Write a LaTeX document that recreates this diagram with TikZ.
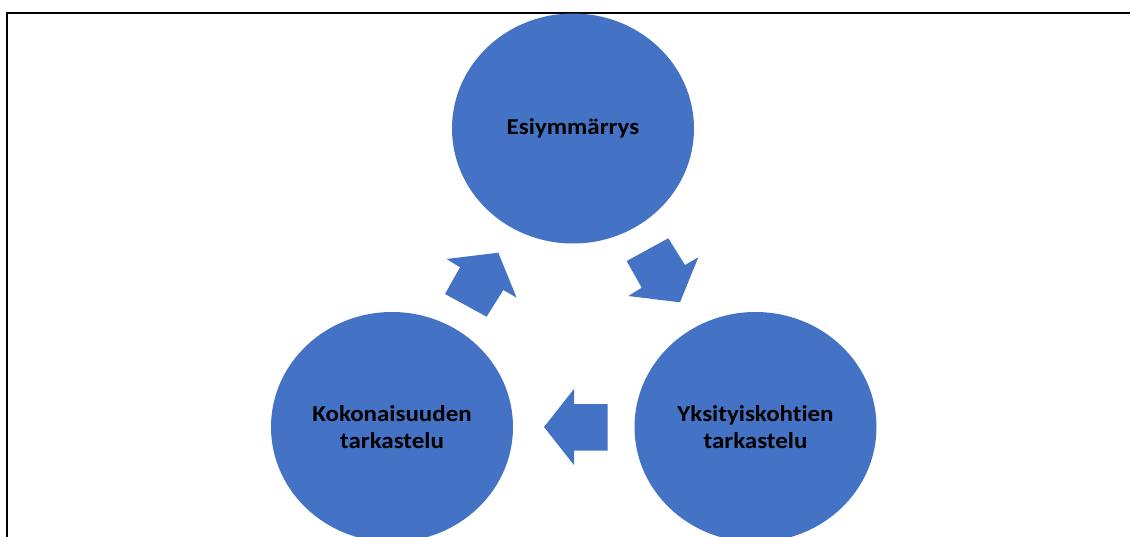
\documentclass[tikz,border=0pt]{standalone}
\usepackage{fontspec}
\newfontfamily\lblfont[FakeStretch=1.1,Ligatures=NoCommon]{Carlito}
\definecolor{officeblue}{HTML}{4472C4}
\tikzset{
  bubble/.style={ellipse, fill=officeblue, minimum width=242pt, minimum height=230pt, inner sep=0pt,
    font=\lblfont\bfseries\fontsize{22.7pt}{26.7pt}\selectfont, text=black, align=center},
  blockarrow/.style={fill=officeblue, draw=none},
  frameline/.style={draw=black, line width=2pt}
}
\usetikzlibrary{shapes.geometric}
\begin{document}
\begin{tikzpicture}[x=1pt,y=-1pt]
\useasboundingbox (0,0) rectangle (1130,536);
\fill[white] (0,0) rectangle (1130,536);
\draw[frameline] (6.7,540) -- (6.7,12.5) -- (1135,12.5);
\node[bubble] (pre) at (573,128.5) {Esiymmärrys};
\node[bubble] (whole) at (392,427) {Kokonaisuuden\\tarkastelu};
\node[bubble] (parts) at (755.5,427) {Yksityiskohtien\\tarkastelu};
% arrow from pre to parts
\fill[blockarrow] (626.7,261) -- (668.3,238.3) -- (685,265) -- (698.3,257.3) -- (680,302.3) -- (628.3,296) -- (641.7,287.7) -- cycle;
% arrow from parts to whole
\fill[blockarrow] (607.7,404) -- (574,404) -- (574,389) -- (544,427) -- (574,465) -- (574,450.7) -- (607.7,450.7) -- cycle;
% arrow from whole to pre
\fill[blockarrow] (445,294) -- (486.6,316.7) -- (503.3,290) -- (516.6,297.7) -- (498.3,252.7) -- (446.6,259) -- (460,267.3) -- cycle;
\end{tikzpicture}
\end{document}
